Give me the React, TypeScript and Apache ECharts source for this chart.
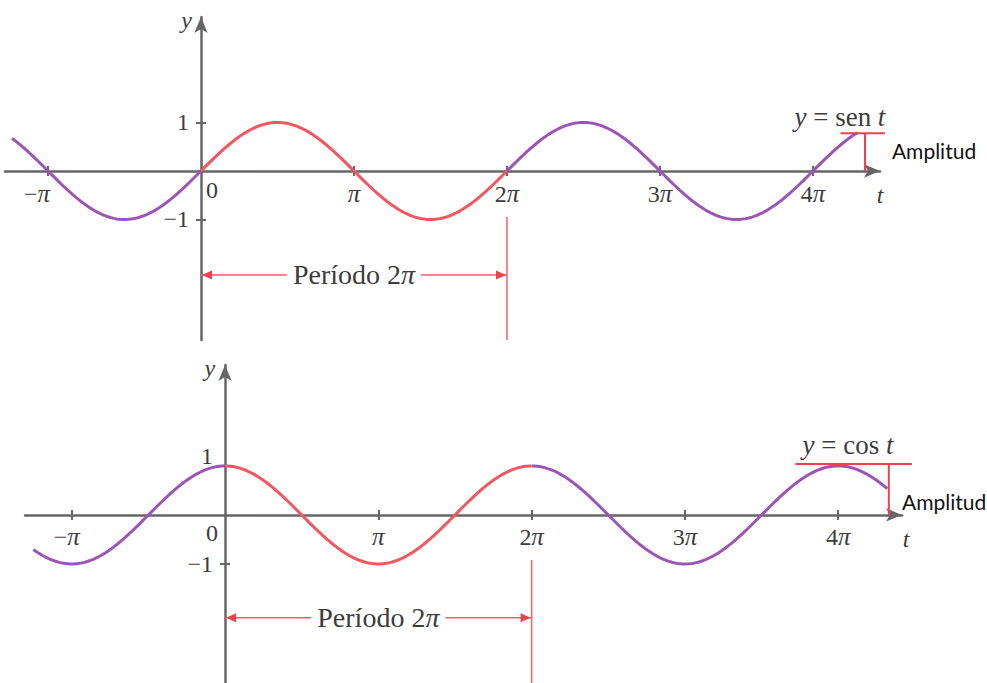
import React, { useEffect, useRef } from 'react';
import * as echarts from 'echarts';

// Tick positions along t, in multiples of π, and the coefficient shown before π
const tickPositions = [-1, 1, 2, 3, 4];
const tickCoefficients = ['−', '', '2', '3', '4'];
const yTickValues = [-1, 1];
const yTickTexts = ['−1', '1'];

// Where each curve is drawn (multiples of π); pieces between breaks alternate colour
const sineBreaks = [-1.235, 0, 2, 4.29];
const cosineBreaks = [-1.25, 0, 2, 4.32];
const pieceColors = ['#9b56b5', '#f2565e', '#9b56b5'];

// Axis extents (t in multiples of π, y in function units)
const topX = { min: -1.281, max: 4.438 };
const topY = { min: -3.485, max: 3.175 };
const bottomX = { min: -1.305, max: 4.416 };
const bottomY = { min: -3.43, max: 3.06 };

// Period brackets and amplitude marks
const sinePeriod = { from: 0, to: 2, arrowY: -2.144, markTop: -0.95 };
const cosinePeriod = { from: 0, to: 2, arrowY: -2.1, markTop: -0.92 };
const sineAmplitude = { x: 4.34, level: 0.78, from: 4.18, to: 4.47 };
const cosineAmplitude = { x: 4.33, level: 1.04, from: 3.72, to: 4.48 };

// Caption anchors
const sineCaption = { x: 4.176, y: 1.11 };
const cosineCaption = { x: 4.064, y: 1.43 };
const sineAmpText = { x: 4.516, y: 0.43 };
const cosineAmpText = { x: 4.416, y: 0.265 };

const SERIF = '"Liberation Serif", "DejaVu Serif", serif';
const INK = '#3c3c3c';
const AXIS = '#666666';
const RED = '#f0404c';
const RED_SOFT = '#f4606a';

function trace(fn: (t: number) => number, a: number, b: number): number[][] {
  const n = Math.ceil((b - a) / 0.01);
  const pts: number[][] = [];
  for (let i = 0; i <= n; i++) {
    const x = a + ((b - a) * i) / n;
    pts.push([x, fn(x * Math.PI)]);
  }
  return pts;
}

function piLabel(k: number): string {
  const c = tickCoefficients[k];
  return (c ? `{n|${c}}` : '') + '{i|π}';
}

const tickRich = {
  n: { fontFamily: SERIF, fontSize: 24, fill: INK },
  i: { fontFamily: SERIF, fontSize: 25, fill: INK, fontStyle: 'italic' },
};

function xAxesFor(gridIndex: number, yIndex: number, range: { min: number; max: number }, tGap: number) {
  const common = {
    type: 'value',
    gridIndex,
    min: range.min,
    max: range.max,
    splitLine: { show: false },
    axisLabel: { show: false },
  };
  const tickStyle = { color: AXIS, width: 2 };
  return [
    {
      ...common,
      position: 'bottom',
      axisLine: {
        show: true,
        onZero: true,
        onZeroAxisIndex: yIndex,
        symbol: ['none', 'arrow'],
        symbolSize: [10, 16],
        lineStyle: { color: AXIS, width: 2.5 },
      },
      axisTick: { show: true, customValues: tickPositions, length: 5, lineStyle: tickStyle },
      name: 't',
      nameLocation: 'end',
      nameGap: tGap,
      nameTextStyle: {
        fontFamily: SERIF,
        fontSize: 24,
        color: INK,
        fontStyle: 'italic',
        align: 'center',
        verticalAlign: 'top',
        padding: [12, 0, 0, 0],
      },
    },
    {
      ...common,
      position: 'top',
      axisLine: { show: false, onZero: true, onZeroAxisIndex: yIndex },
      axisTick: { show: true, customValues: tickPositions, length: 5, lineStyle: tickStyle },
    },
  ];
}

function yAxesFor(gridIndex: number, xIndex: number, range: { min: number; max: number }, yPad: number) {
  const common = {
    type: 'value',
    gridIndex,
    min: range.min,
    max: range.max,
    splitLine: { show: false },
    axisLabel: { show: false },
  };
  const tickStyle = { color: AXIS, width: 2 };
  return [
    {
      ...common,
      position: 'left',
      axisLine: {
        show: true,
        onZero: true,
        onZeroAxisIndex: xIndex,
        symbol: ['none', 'arrow'],
        symbolSize: [10, 16],
        lineStyle: { color: AXIS, width: 2.5 },
      },
      axisTick: { show: true, customValues: yTickValues, length: 5, lineStyle: tickStyle },
      name: 'y',
      nameLocation: 'end',
      nameGap: -3,
      nameTextStyle: {
        fontFamily: SERIF,
        fontSize: 24,
        color: INK,
        fontStyle: 'italic',
        align: 'right',
        verticalAlign: 'middle',
        padding: [0, yPad, 0, 0],
      },
    },
    {
      ...common,
      position: 'right',
      axisLine: { show: false, onZero: true, onZeroAxisIndex: xIndex },
      axisTick: { show: true, customValues: yTickValues, length: 5, lineStyle: tickStyle },
    },
  ];
}

function curveSeries(fn: (t: number) => number, breaks: number[], axisIndex: number) {
  return pieceColors.map((color, i) => ({
    type: 'line',
    xAxisIndex: axisIndex,
    yAxisIndex: axisIndex,
    data: trace(fn, breaks[i], breaks[i + 1]),
    showSymbol: false,
    symbol: 'none',
    smooth: false,
    z: 3,
    lineStyle: { color, width: 3 },
  }));
}

function buildOption() {
  return {
    animation: false,
    backgroundColor: '#ffffff',
    grid: [
      { left: 5, right: 107, top: 17, bottom: 343, containLabel: false, outerBoundsMode: 'none' },
      { left: 25, right: 85, top: 365, bottom: 0, containLabel: false, outerBoundsMode: 'none' },
    ],
    xAxis: [...xAxesFor(0, 0, topX, 0), ...xAxesFor(1, 2, bottomX, 4)],
    yAxis: [...yAxesFor(0, 0, topY, 9), ...yAxesFor(1, 2, bottomY, 10)],
    series: [...curveSeries(Math.sin, sineBreaks, 0), ...curveSeries(Math.cos, cosineBreaks, 2)],
  };
}

type Panel = {
  axis: number;
  yMin: number;
  period: { from: number; to: number; arrowY: number; markTop: number };
  amp: { x: number; level: number; from: number; to: number };
  caption: { x: number; y: number };
  captionText: string;
  ampText: { x: number; y: number };
  zeroOffset: number[];
  tickDrop: number;
  minusShift: number;
  oneLift: number;
};

function panelGraphics(chart: echarts.ECharts, p: Panel) {
  const toPx = (x: number, y: number) =>
    chart.convertToPixel({ xAxisIndex: p.axis, yAxisIndex: p.axis }, [x, y]) as number[];
  const els: any[] = [];
  const line = (a: number[], b: number[], stroke: string, lineWidth: number) =>
    els.push({ type: 'line', z: 10, shape: { x1: a[0], y1: a[1], x2: b[0], y2: b[1] }, style: { stroke, lineWidth } });
  const text = (pt: number[], style: any) => els.push({ type: 'text', z: 11, x: pt[0], y: pt[1], style });

  // tick labels on t
  tickPositions.forEach((v, k) => {
    const at = toPx(v, 0);
    const dx = tickCoefficients[k] === '−' ? p.minusShift : 0;
    text([at[0] + dx, at[1] + p.tickDrop], {
      text: piLabel(k),
      align: 'center',
      verticalAlign: 'middle',
      rich: tickRich,
    });
  });

  // tick labels on y
  yTickValues.forEach((v, k) => {
    const at = toPx(0, v);
    text([at[0] - 12, at[1] - (v > 0 ? p.oneLift : 0)], {
      text: yTickTexts[k],
      align: 'right',
      verticalAlign: 'middle',
      fontFamily: SERIF,
      fontSize: 24,
      fill: INK,
    });
  });

  // origin label
  const origin = toPx(0, 0);
  text([origin[0] + p.zeroOffset[0], origin[1] + p.zeroOffset[1]], {
    text: '0',
    align: 'center',
    verticalAlign: 'middle',
    fontFamily: SERIF,
    fontSize: 24,
    fill: INK,
  });

  // period bracket
  line(toPx(p.period.to, p.period.markTop), toPx(p.period.to, p.yMin), RED_SOFT, 1.5);
  const s = toPx(p.period.from, p.period.arrowY);
  const e = toPx(p.period.to, p.period.arrowY);
  line(s, e, RED_SOFT, 1.5);
  const head = 11;
  const half = 4.5;
  els.push({
    type: 'polygon', z: 10,
    shape: { points: [[s[0] + 1, s[1]], [s[0] + head, s[1] - half], [s[0] + head, s[1] + half]] },
    style: { fill: RED },
  });
  els.push({
    type: 'polygon', z: 10,
    shape: { points: [[e[0] - 1, e[1]], [e[0] - head, e[1] - half], [e[0] - head, e[1] + half]] },
    style: { fill: RED },
  });
  text(toPx((p.period.from + p.period.to) / 2, p.period.arrowY), {
    text: '{a|Período 2}{b|π}',
    align: 'center',
    verticalAlign: 'middle',
    backgroundColor: '#ffffff',
    padding: [0, 6],
    rich: {
      a: { fontFamily: SERIF, fontSize: 28, fill: INK },
      b: { fontFamily: SERIF, fontSize: 28, fill: INK, fontStyle: 'italic' },
    },
  });

  // amplitude mark
  line(toPx(p.amp.x, 0), toPx(p.amp.x, p.amp.level), RED, 2);
  line(toPx(p.amp.from, p.amp.level), toPx(p.amp.to, p.amp.level), RED, 2);

  text(toPx(p.caption.x, p.caption.y), {
    text: `{i|y} = ${p.captionText} {i|t}`,
    align: 'center',
    verticalAlign: 'middle',
    fontFamily: SERIF,
    fontSize: 27,
    fill: INK,
    rich: {
      i: { fontFamily: SERIF, fontSize: 27, fill: INK, fontStyle: 'italic' },
    },
  });

  text(toPx(p.ampText.x, p.ampText.y), {
    text: 'Amplitud',
    align: 'left',
    verticalAlign: 'middle',
    fontFamily: 'Lato, "Open Sans", sans-serif',
    fontSize: 21,
    fill: '#111111',
  });
  return els;
}

function buildAnnotations(chart: echarts.ECharts) {
  return [
    ...panelGraphics(chart, {
      axis: 0,
      yMin: topY.min,
      period: sinePeriod,
      amp: sineAmplitude,
      caption: sineCaption,
      captionText: 'sen',
      ampText: sineAmpText,
      zeroOffset: [11, 19],
      tickDrop: 23,
      minusShift: -11,
      oneLift: 0,
    }),
    ...panelGraphics(chart, {
      axis: 2,
      yMin: bottomY.min,
      period: cosinePeriod,
      amp: cosineAmplitude,
      caption: cosineCaption,
      captionText: 'cos',
      ampText: cosineAmpText,
      zeroOffset: [-13, 18],
      tickDrop: 22,
      minusShift: -5,
      oneLift: 10,
    }),
  ];
}

export default function App() {
  const ref = useRef<HTMLDivElement>(null);
  useEffect(() => {
    const el = ref.current;
    if (!el) return;
    const chart = echarts.init(el, null, { renderer: 'svg' });
    chart.setOption(buildOption() as any);
    chart.setOption({ graphic: buildAnnotations(chart) } as any);
    return () => {
      chart.dispose();
    };
  }, []);
  return (
    <div
      ref={ref}
      style={{ position: 'absolute', left: 0, top: 0, width: 987, height: 683, background: '#ffffff' }}
    />
  );
}
